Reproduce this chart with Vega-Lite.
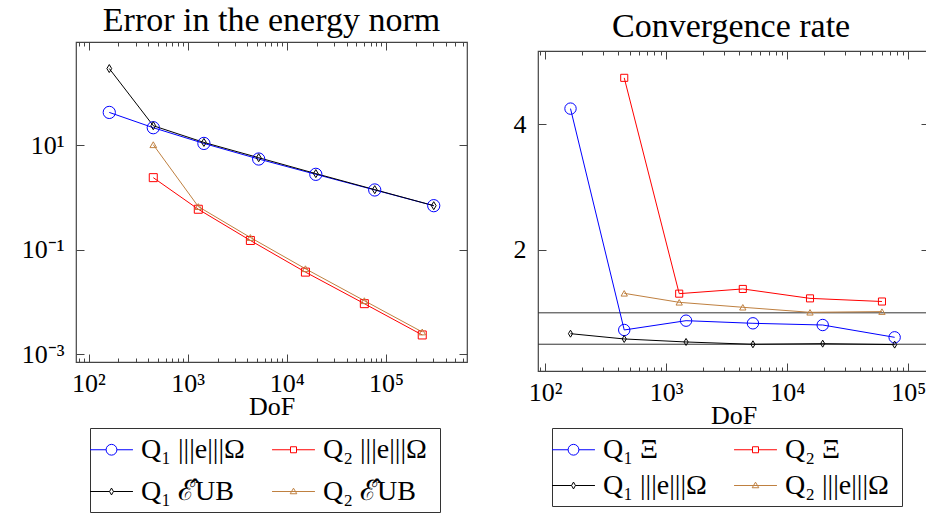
{
  "$schema": "https://vega.github.io/schema/vega-lite/v6.json",
  "background": "white",
  "padding": {"left": 20, "top": 2, "right": 0, "bottom": 0},
  "datasets": {
    "left": [
      {"s": "Q₁  |||e|||Ω", "dof": 162, "v": 42.8},
      {"s": "Q₁  |||e|||Ω", "dof": 450, "v": 21.8},
      {"s": "Q₁  |||e|||Ω", "dof": 1458, "v": 10.9},
      {"s": "Q₁  |||e|||Ω", "dof": 5202, "v": 5.48},
      {"s": "Q₁  |||e|||Ω", "dof": 19602, "v": 2.79},
      {"s": "Q₁  |||e|||Ω", "dof": 77000, "v": 1.4},
      {"s": "Q₁  |||e|||Ω", "dof": 303000, "v": 0.7},
      {"s": "Q₂  |||e|||Ω", "dof": 450, "v": 2.41},
      {"s": "Q₂  |||e|||Ω", "dof": 1280, "v": 0.598},
      {"s": "Q₂  |||e|||Ω", "dof": 4290, "v": 0.151},
      {"s": "Q₂  |||e|||Ω", "dof": 15400, "v": 0.0374},
      {"s": "Q₂  |||e|||Ω", "dof": 60500, "v": 0.0093},
      {"s": "Q₂  |||e|||Ω", "dof": 232000, "v": 0.00234},
      {"s": "Q₁  ℰ̂UB", "dof": 162, "v": 296},
      {"s": "Q₁  ℰ̂UB", "dof": 450, "v": 23.8},
      {"s": "Q₁  ℰ̂UB", "dof": 1458, "v": 11.4},
      {"s": "Q₁  ℰ̂UB", "dof": 5202, "v": 5.81},
      {"s": "Q₁  ℰ̂UB", "dof": 19602, "v": 2.88},
      {"s": "Q₁  ℰ̂UB", "dof": 77000, "v": 1.42},
      {"s": "Q₁  ℰ̂UB", "dof": 303000, "v": 0.7},
      {"s": "Q₂  ℰ̂UB", "dof": 450, "v": 10.3},
      {"s": "Q₂  ℰ̂UB", "dof": 1280, "v": 0.673},
      {"s": "Q₂  ℰ̂UB", "dof": 4290, "v": 0.172},
      {"s": "Q₂  ℰ̂UB", "dof": 15400, "v": 0.0434},
      {"s": "Q₂  ℰ̂UB", "dof": 60500, "v": 0.0106},
      {"s": "Q₂  ℰ̂UB", "dof": 232000, "v": 0.00267}
    ],
    "right": [
      {"s": "Q₁  Ξ", "dof": 162, "v": 4.25},
      {"s": "Q₁  Ξ", "dof": 450, "v": 0.727},
      {"s": "Q₁  Ξ", "dof": 1458, "v": 0.875},
      {"s": "Q₁  Ξ", "dof": 5202, "v": 0.833},
      {"s": "Q₁  Ξ", "dof": 19602, "v": 0.806},
      {"s": "Q₁  Ξ", "dof": 77000, "v": 0.61},
      {"s": "Q₂  Ξ", "dof": 450, "v": 4.74},
      {"s": "Q₂  Ξ", "dof": 1280, "v": 1.305},
      {"s": "Q₂  Ξ", "dof": 4290, "v": 1.38},
      {"s": "Q₂  Ξ", "dof": 15400, "v": 1.23},
      {"s": "Q₂  Ξ", "dof": 60500, "v": 1.18},
      {"s": "Q₁  |||e|||Ω", "dof": 162, "v": 0.668},
      {"s": "Q₁  |||e|||Ω", "dof": 450, "v": 0.584},
      {"s": "Q₁  |||e|||Ω", "dof": 1458, "v": 0.536},
      {"s": "Q₁  |||e|||Ω", "dof": 5202, "v": 0.499},
      {"s": "Q₁  |||e|||Ω", "dof": 19602, "v": 0.509},
      {"s": "Q₁  |||e|||Ω", "dof": 77000, "v": 0.494},
      {"s": "Q₂  |||e|||Ω", "dof": 450, "v": 1.31},
      {"s": "Q₂  |||e|||Ω", "dof": 1280, "v": 1.167},
      {"s": "Q₂  |||e|||Ω", "dof": 4290, "v": 1.088},
      {"s": "Q₂  |||e|||Ω", "dof": 15400, "v": 1.008},
      {"s": "Q₂  |||e|||Ω", "dof": 60500, "v": 1.019}
    ],
    "refs": [{"r": 1}, {"r": 0.5}]
  },
  "hconcat": [
    {
      "width": 391,
      "height": 320,
      "title": {"text": "Error in the energy norm", "anchor": "middle", "frame": "group"},
      "data": {"name": "left"},
      "layer": [
        {
          "transform": [{"filter": {"field": "v", "lt": 0}}],
          "mark": {"type": "point", "filled": false, "opacity": 1},
          "encoding": {
            "x": {"field": "dof", "type": "quantitative", "scale": {"type": "log", "domain": [74.8, 656000], "nice": false}, "axis": null},
            "y": {"field": "v", "type": "quantitative", "scale": {"type": "log", "domain": [0.00071, 955], "nice": false}, "axis": null},
            "color": {"field": "s", "type": "nominal", "legend": {"title": null, "rowPadding": 12, "disable": false, "orient": "none", "legendX": 14, "legendY": 386},
              "scale": {"domain": ["Q₁  |||e|||Ω", "Q₂  |||e|||Ω", "Q₁  ℰ̂UB", "Q₂  ℰ̂UB"], "range": ["#0000ff", "#ff0000", "#000000", "#bf8040"]}},
            "shape": {"field": "s", "type": "nominal", "legend": {"title": null, "rowPadding": 12, "disable": false, "orient": "none", "legendX": 14, "legendY": 386},
              "scale": {"domain": ["Q₁  |||e|||Ω", "Q₂  |||e|||Ω", "Q₁  ℰ̂UB", "Q₂  ℰ̂UB"],
                "range": ["M-1.43,0H-0.36M0.36,0H1.43M-0.36,0A0.36,0.36 0 1,0 0.36,0A0.36,0.36 0 1,0 -0.36,0",
                          "M-1.43,0H-0.2M0.2,0H1.43M-0.2,-0.2H0.2V0.2H-0.2Z",
                          "M-1.43,0H-0.13M0.13,0H1.43M0,-0.23L0.13,0L0,0.23L-0.13,0Z",
                          "M-1.43,0H1.43M0,-0.22L0.22,0.15H-0.22Z"]}}
          }
        },
        {
          "mark": {"type": "line", "strokeWidth": 1},
          "encoding": {
            "x": {"field": "dof", "type": "quantitative", "scale": {"type": "log", "domain": [74.8, 656000], "nice": false},
              "axis": {"orient": "bottom", "values": [100, 1000, 10000, 100000], "ticks": false, "labelPadding": 8, "labelFlush": false, "labelOverlap": false,
                "labelExpr": "datum.value < 500 ? '10²' : datum.value < 5000 ? '10³' : datum.value < 50000 ? '10⁴' : '10⁵'", "title": "DoF", "titlePadding": -3}},
            "y": {"field": "v", "type": "quantitative", "scale": {"type": "log", "domain": [0.00071, 955], "nice": false},
              "axis": {"orient": "left", "values": [0.001, 0.1, 10], "ticks": false, "labelPadding": 12, "labelFlush": false, "labelOverlap": false,
                "labelExpr": "datum.value > 1 ? '10¹' : datum.value > 0.01 ? '10⁻¹' : '10⁻³'", "title": null}},
            "color": {"field": "s", "type": "nominal", "legend": null}
          }
        },
        {
          "transform": [{"filter": {"field": "s", "equal": "Q₁  |||e|||Ω"}}],
          "mark": {"type": "point", "shape": "circle", "size": 150, "filled": false, "strokeWidth": 1, "opacity": 1},
          "encoding": {
            "x": {"field": "dof", "type": "quantitative", "scale": {"type": "log", "domain": [74.8, 656000], "nice": false},
              "axis": {"orient": "bottom", "values": [100, 1000, 10000, 100000], "labels": false, "tickSize": -8, "title": null}},
            "y": {"field": "v", "type": "quantitative", "scale": {"type": "log", "domain": [0.00071, 955], "nice": false},
              "axis": {"orient": "left", "values": [0.001, 0.1, 10], "labels": false, "tickSize": -8, "title": null}},
            "color": {"field": "s", "type": "nominal", "legend": null}
          }
        },
        {
          "transform": [{"filter": {"field": "s", "equal": "Q₂  |||e|||Ω"}}],
          "mark": {"type": "point", "shape": "square", "size": 64, "filled": false, "strokeWidth": 1, "opacity": 1},
          "encoding": {
            "x": {"field": "dof", "type": "quantitative", "scale": {"type": "log", "domain": [74.8, 656000], "nice": false},
              "axis": {"orient": "bottom", "values": [80, 90, 200, 300, 400, 500, 600, 700, 800, 900, 2000, 3000, 4000, 5000, 6000, 7000, 8000, 9000, 20000, 30000, 40000, 50000, 60000, 70000, 80000, 90000, 200000, 300000, 400000, 500000, 600000], "labels": false, "tickSize": -4, "title": null}},
            "y": {"field": "v", "type": "quantitative", "scale": {"type": "log", "domain": [0.00071, 955], "nice": false},
              "axis": {"orient": "right", "values": [0.001, 0.1, 10], "labels": false, "tickSize": -8, "title": null}},
            "color": {"field": "s", "type": "nominal", "legend": null}
          }
        },
        {
          "transform": [{"filter": {"field": "s", "equal": "Q₁  ℰ̂UB"}}],
          "mark": {"type": "point", "shape": "M0,-1L0.6,0L0,1L-0.6,0Z", "size": 64, "filled": false, "strokeWidth": 1, "opacity": 1},
          "encoding": {
            "x": {"field": "dof", "type": "quantitative", "scale": {"type": "log", "domain": [74.8, 656000], "nice": false},
              "axis": {"orient": "top", "values": [100, 1000, 10000, 100000], "labels": false, "tickSize": -8, "title": null}},
            "y": {"field": "v", "type": "quantitative", "scale": {"type": "log", "domain": [0.00071, 955], "nice": false}, "axis": null},
            "color": {"field": "s", "type": "nominal", "legend": null}
          }
        },
        {
          "transform": [{"filter": {"field": "s", "equal": "Q₂  ℰ̂UB"}}],
          "mark": {"type": "point", "shape": "triangle-up", "size": 45, "filled": false, "strokeWidth": 1, "opacity": 1},
          "encoding": {
            "x": {"field": "dof", "type": "quantitative", "scale": {"type": "log", "domain": [74.8, 656000], "nice": false},
              "axis": {"orient": "top", "values": [80, 90, 200, 300, 400, 500, 600, 700, 800, 900, 2000, 3000, 4000, 5000, 6000, 7000, 8000, 9000, 20000, 30000, 40000, 50000, 60000, 70000, 80000, 90000, 200000, 300000, 400000, 500000, 600000], "labels": false, "tickSize": -4, "title": null}},
            "y": {"field": "v", "type": "quantitative", "scale": {"type": "log", "domain": [0.00071, 955], "nice": false}, "axis": null},
            "color": {"field": "s", "type": "nominal", "legend": null}
          }
        }
      ],
      "resolve": {"axis": {"x": "independent", "y": "independent"}}
    },
    {
      "title": {"text": "Convergence rate", "anchor": "start", "frame": "group", "dx": 74, "dy": 6},
      "spacing": 0,
      "vconcat": [
        {
          "width": 391,
          "height": 7,
          "data": {"values": []},
          "mark": {"type": "point", "opacity": 0},
          "encoding": {},
          "view": {"stroke": null}
        },
        {
          "width": 391,
          "height": 320,
          "layer": [
            {
              "data": {"name": "right"},
              "transform": [{"filter": {"field": "v", "lt": 0}}],
              "mark": {"type": "point", "filled": false, "opacity": 1},
              "encoding": {
                "x": {"field": "dof", "type": "quantitative", "scale": {"type": "log", "domain": [87.3, 148000], "nice": false}, "axis": null},
                "y": {"field": "v", "type": "quantitative", "scale": {"type": "linear", "domain": [0.074, 5.167], "nice": false, "zero": false}, "axis": null},
                "color": {"field": "s", "type": "nominal", "legend": {"title": null, "rowPadding": 6, "disable": false, "orient": "none", "legendX": 14, "legendY": 386},
                  "scale": {"domain": ["Q₁  Ξ", "Q₂  Ξ", "Q₁  |||e|||Ω", "Q₂  |||e|||Ω"], "range": ["#0000ff", "#ff0000", "#000000", "#bf8040"]}},
                "shape": {"field": "s", "type": "nominal", "legend": {"title": null, "rowPadding": 6, "disable": false, "orient": "none", "legendX": 14, "legendY": 386},
                  "scale": {"domain": ["Q₁  Ξ", "Q₂  Ξ", "Q₁  |||e|||Ω", "Q₂  |||e|||Ω"],
                    "range": ["M-1.43,0H-0.36M0.36,0H1.43M-0.36,0A0.36,0.36 0 1,0 0.36,0A0.36,0.36 0 1,0 -0.36,0",
                              "M-1.43,0H-0.2M0.2,0H1.43M-0.2,-0.2H0.2V0.2H-0.2Z",
                              "M-1.43,0H-0.13M0.13,0H1.43M0,-0.23L0.13,0L0,0.23L-0.13,0Z",
                              "M-1.43,0H1.43M0,-0.22L0.22,0.15H-0.22Z"]}}
              }
            },
            {
              "data": {"name": "refs"},
              "mark": {"type": "rule", "strokeWidth": 1, "color": "#333333"},
              "encoding": {
                "y": {"field": "r", "type": "quantitative", "scale": {"type": "linear", "domain": [0.074, 5.167], "nice": false, "zero": false}, "axis": null}
              }
            },
            {
              "data": {"name": "right"},
              "mark": {"type": "line", "strokeWidth": 1},
              "encoding": {
                "x": {"field": "dof", "type": "quantitative", "scale": {"type": "log", "domain": [87.3, 148000], "nice": false},
                  "axis": {"orient": "bottom", "values": [100, 1000, 10000, 100000], "ticks": false, "labelPadding": 8, "labelFlush": false, "labelOverlap": false,
                    "labelExpr": "datum.value < 500 ? '10²' : datum.value < 5000 ? '10³' : datum.value < 50000 ? '10⁴' : '10⁵'", "title": "DoF", "titlePadding": -3}},
                "y": {"field": "v", "type": "quantitative", "scale": {"type": "linear", "domain": [0.074, 5.167], "nice": false, "zero": false},
                  "axis": {"orient": "left", "values": [2, 4], "ticks": false, "labelPadding": 12, "title": null}},
                "color": {"field": "s", "type": "nominal", "legend": null}
              }
            },
            {
              "data": {"name": "right"},
              "transform": [{"filter": {"field": "s", "equal": "Q₁  Ξ"}}],
              "mark": {"type": "point", "shape": "circle", "size": 130, "filled": false, "strokeWidth": 1, "opacity": 1},
              "encoding": {
                "x": {"field": "dof", "type": "quantitative", "scale": {"type": "log", "domain": [87.3, 148000], "nice": false},
                  "axis": {"orient": "bottom", "values": [100, 1000, 10000, 100000], "labels": false, "tickSize": -8, "title": null}},
                "y": {"field": "v", "type": "quantitative", "scale": {"type": "linear", "domain": [0.074, 5.167], "nice": false, "zero": false},
                  "axis": {"orient": "left", "values": [2, 4], "labels": false, "tickSize": -8, "title": null}},
                "color": {"field": "s", "type": "nominal", "legend": null}
              }
            },
            {
              "data": {"name": "right"},
              "transform": [{"filter": {"field": "s", "equal": "Q₂  Ξ"}}],
              "mark": {"type": "point", "shape": "square", "size": 50, "filled": false, "strokeWidth": 1, "opacity": 1},
              "encoding": {
                "x": {"field": "dof", "type": "quantitative", "scale": {"type": "log", "domain": [87.3, 148000], "nice": false},
                  "axis": {"orient": "bottom", "values": [90, 200, 300, 400, 500, 600, 700, 800, 900, 2000, 3000, 4000, 5000, 6000, 7000, 8000, 9000, 20000, 30000, 40000, 50000, 60000, 70000, 80000, 90000], "labels": false, "tickSize": -4, "title": null}},
                "y": {"field": "v", "type": "quantitative", "scale": {"type": "linear", "domain": [0.074, 5.167], "nice": false, "zero": false},
                  "axis": {"orient": "right", "values": [2, 4], "labels": false, "tickSize": -8, "title": null}},
                "color": {"field": "s", "type": "nominal", "legend": null}
              }
            },
            {
              "data": {"name": "right"},
              "transform": [{"filter": {"field": "s", "equal": "Q₁  |||e|||Ω"}}],
              "mark": {"type": "point", "shape": "M0,-1L0.6,0L0,1L-0.6,0Z", "size": 49, "filled": false, "strokeWidth": 1, "opacity": 1},
              "encoding": {
                "x": {"field": "dof", "type": "quantitative", "scale": {"type": "log", "domain": [87.3, 148000], "nice": false},
                  "axis": {"orient": "top", "values": [100, 1000, 10000, 100000], "labels": false, "tickSize": -8, "title": null}},
                "y": {"field": "v", "type": "quantitative", "scale": {"type": "linear", "domain": [0.074, 5.167], "nice": false, "zero": false}, "axis": null},
                "color": {"field": "s", "type": "nominal", "legend": null}
              }
            },
            {
              "data": {"name": "right"},
              "transform": [{"filter": {"field": "s", "equal": "Q₂  |||e|||Ω"}}],
              "mark": {"type": "point", "shape": "triangle-up", "size": 40, "filled": false, "strokeWidth": 1, "opacity": 1},
              "encoding": {
                "x": {"field": "dof", "type": "quantitative", "scale": {"type": "log", "domain": [87.3, 148000], "nice": false},
                  "axis": {"orient": "top", "values": [90, 200, 300, 400, 500, 600, 700, 800, 900, 2000, 3000, 4000, 5000, 6000, 7000, 8000, 9000, 20000, 30000, 40000, 50000, 60000, 70000, 80000, 90000], "labels": false, "tickSize": -4, "title": null}},
                "y": {"field": "v", "type": "quantitative", "scale": {"type": "linear", "domain": [0.074, 5.167], "nice": false, "zero": false}, "axis": null},
                "color": {"field": "s", "type": "nominal", "legend": null}
              }
            }
          ],
          "resolve": {"axis": {"x": "independent", "y": "independent"}}
        }
      ]
    }
  ],
  "spacing": 43,
  "resolve": {"scale": {"color": "independent", "shape": "independent"}, "legend": {"color": "independent", "shape": "independent"}},
  "config": {
    "view": {"stroke": "#444444", "strokeWidth": 1.2},
    "title": {"font": "Liberation Serif", "fontSize": 34, "fontWeight": "normal", "color": "black", "offset": 4},
    "axis": {"labelFont": "Liberation Serif", "labelFontSize": 26, "labelColor": "black", "titleFont": "Liberation Serif", "titleFontSize": 26, "titleFontWeight": "normal", "titleColor": "black", "domain": false, "grid": false, "tickColor": "#444444", "tickWidth": 1},
    "legend": {"direction": "horizontal", "columns": 2, "strokeColor": "#333333", "fillColor": "white", "padding": 6,
      "labelFont": "Liberation Serif", "labelFontSize": 28, "labelColor": "black", "labelLimit": 400, "labelOffset": 14,
      "symbolSize": 900, "symbolStrokeWidth": 1, "symbolOpacity": 1, "columnPadding": 18}
  }
}
